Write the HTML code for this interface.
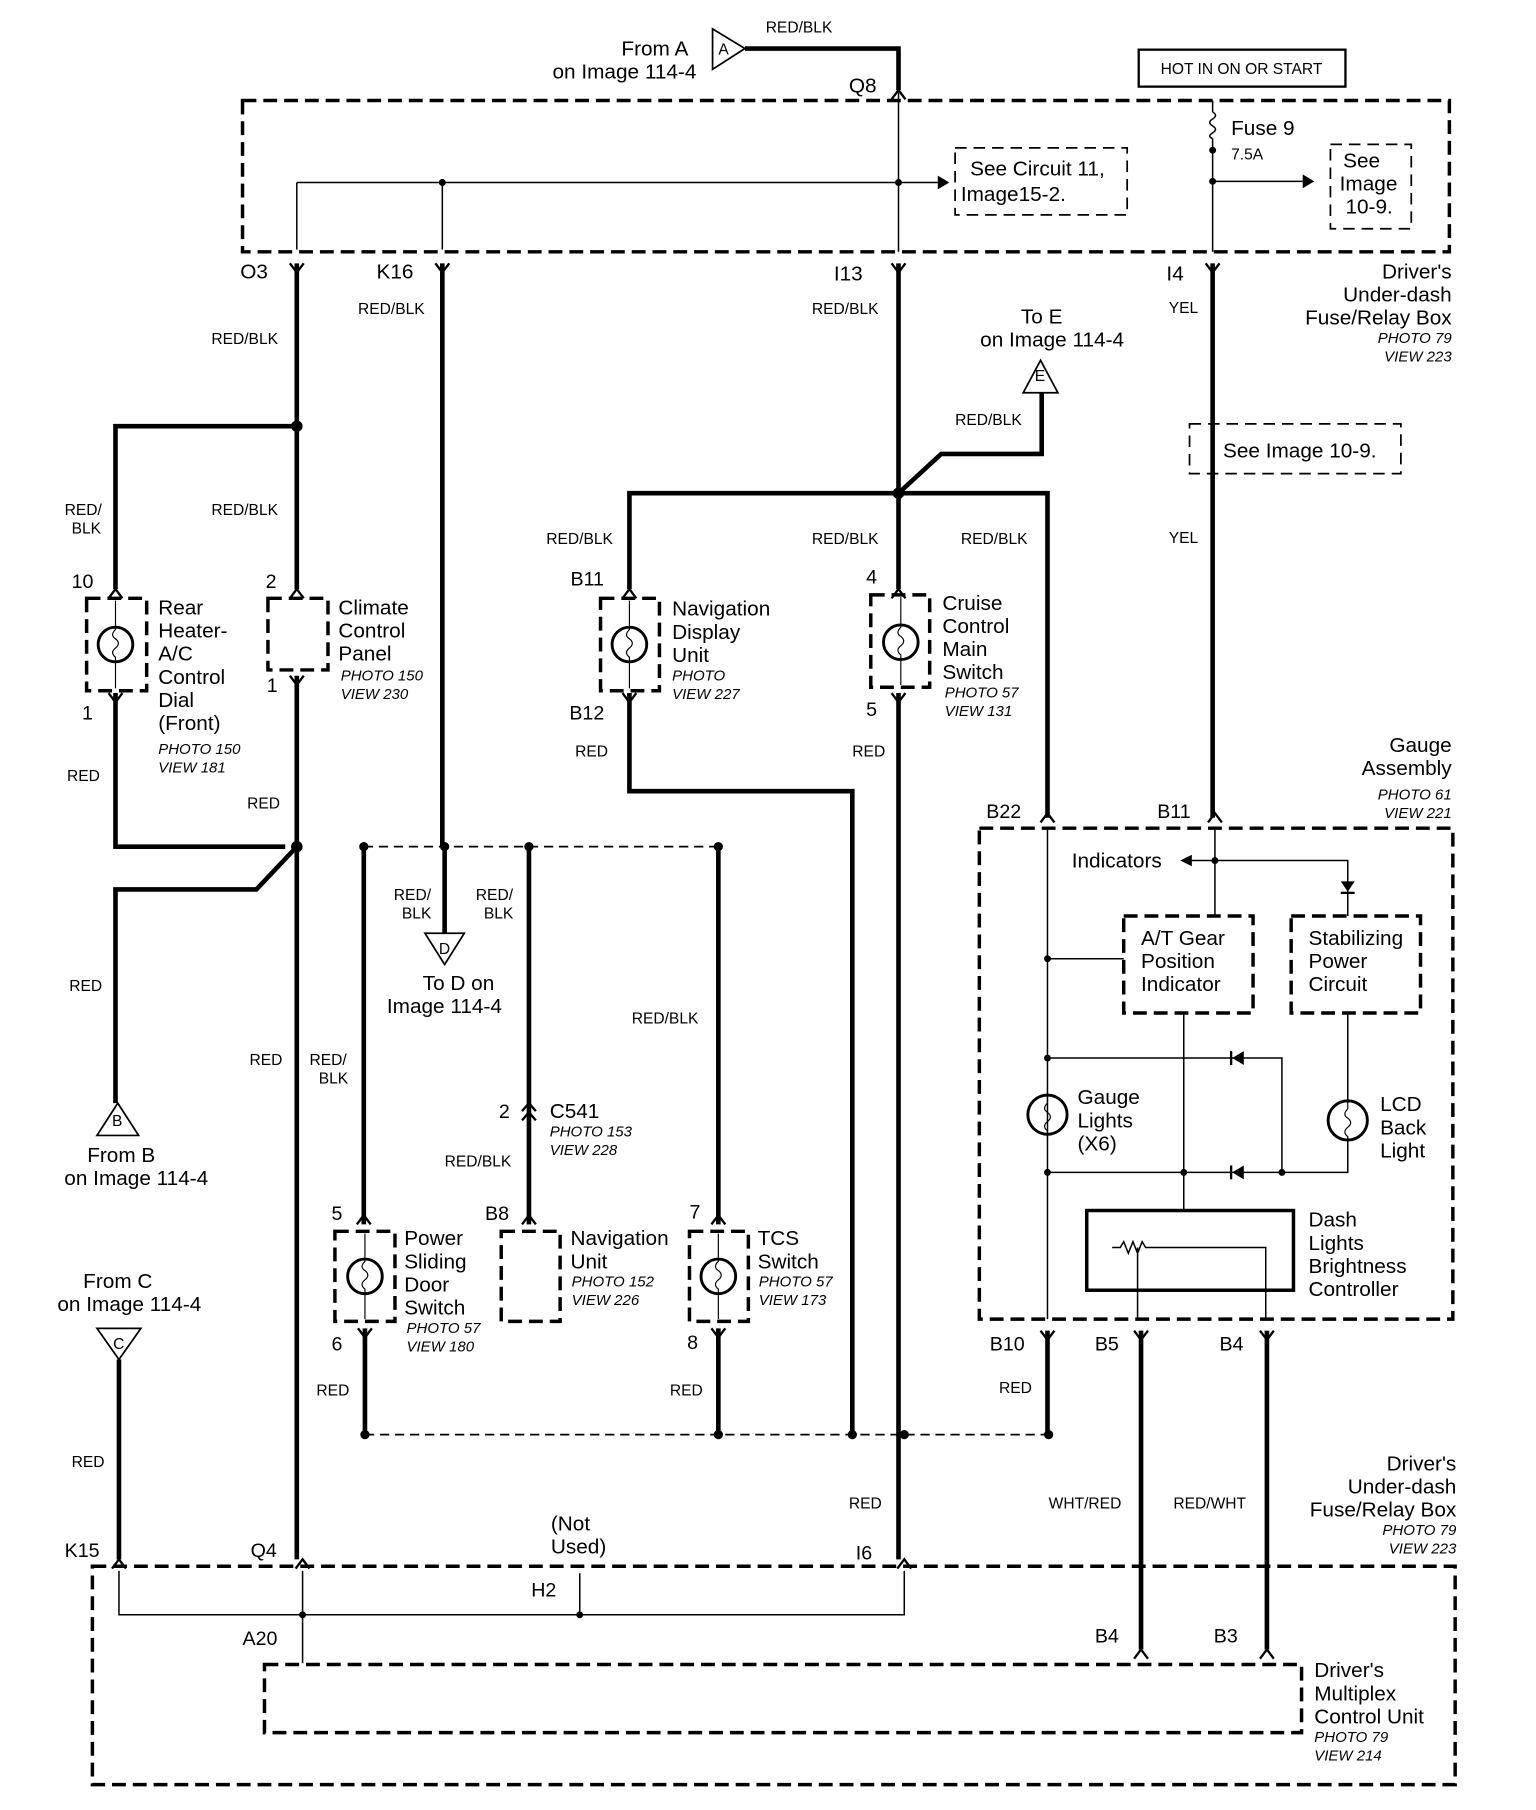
<!DOCTYPE html>
<html><head><meta charset="utf-8"><style>
html,body{margin:0;padding:0;background:#fff}
svg{display:block}
text{font-family:"Liberation Sans",sans-serif;fill:#000}
.l{font-size:18px}
.w{font-size:13.5px}
.i{font-size:13px;font-style:italic}
.n{font-size:17px}
</style></head><body>
<svg width="1536" height="1810" viewBox="0 0 1330 1567" preserveAspectRatio="none" xmlns="http://www.w3.org/2000/svg">
<g fill="none" stroke="#000">
<g stroke-width="3" stroke-dasharray="12,6">
<rect x="210" y="87" width="1045" height="131"/>
<rect x="848" y="717" width="410" height="425"/>
<rect x="80" y="1356" width="1180" height="189"/>
<rect x="229" y="1441" width="898" height="59"/>
<rect x="75" y="518" width="52" height="80"/>
<rect x="232" y="518" width="52" height="62"/>
<rect x="520" y="518" width="51" height="80"/>
<rect x="754" y="515" width="51" height="80"/>
<rect x="290" y="1066" width="52" height="78"/>
<rect x="434" y="1066" width="51" height="78"/>
<rect x="597" y="1066" width="51" height="78"/>
<rect x="973" y="793" width="112" height="84"/>
<rect x="1118" y="793" width="112" height="84"/>
</g>
<g stroke-width="1.5" stroke-dasharray="10,6">
<rect x="827" y="128" width="149" height="58"/>
<rect x="1152" y="125" width="70" height="73"/>
<rect x="1030" y="367" width="183" height="43"/>
</g>
<rect x="986" y="43" width="179" height="32" stroke-width="2"/>
<rect x="941" y="1048" width="179" height="69" stroke-width="3"/>
<g stroke-width="4">
<path d="M645 42H778V78"/>
<path d="M257 228V510M257 369H100V510"/>
<path d="M383 228V733"/>
<path d="M778 228V510M778 427L815 393H902V340"/>
<path d="M545 510V427H907V708"/>
<path d="M1050 228V708"/>
<path d="M100 600V733H247M257 585V1350M257 733L222 770H100V955"/>
<path d="M545 600V685H738V1242"/>
<path d="M778 600V1350"/>
<path d="M315 733V1060M385 733V808M458 733V1060M622 733V1060"/>
<path d="M316 1150V1242M622 1150V1242M907 1152V1242"/>
<path d="M988 1152V1428M1097 1152V1428"/>
<path d="M103 1177V1350"/>
</g>
<g stroke-width="1.5" stroke-dasharray="8,5">
<path d="M315 733H622M316 1242H908"/>
</g>
<g stroke-width="1.3">
<path d="M778 80V218M257 158H812M257 158V216M383 158V216"/>
<path d="M1050 87V97M1050 120V218M1050 157H1128"/>
<path d="M1050 97q5 3 0 6q-5 3 0 6q5 3 0 6q-5 3 0 5"/>
<path d="M907 717V1142M907 830H973M1052 717V793M1052 745H1032M1052 745H1167V793"/>
<path d="M907 916H1110V1015M907 1015H1167V985M1167 877V955M1025 877V1048"/>
<path d="M963 1080H970l3-5 4 10 4-10 4 10 4-10 3 5H1096V1142M985 1080V1142"/>
<path d="M103 1360V1398H783V1360M262 1360V1440M502 1398V1362"/>
</g>
<g fill="#000" stroke="none">
<path d="M812 152L822 158L812 164Z"/><path d="M1128 151L1138 157L1128 163Z"/>
<path d="M1032 740L1022 745L1032 750Z"/>
<path d="M1161 763H1173L1167 772Z"/><rect x="1161" y="772" width="12" height="2"/>
<path d="M1077 910V922L1067 916Z"/><rect x="1065" y="910" width="2" height="12"/>
<path d="M1077 1009V1021L1067 1015Z"/><rect x="1065" y="1009" width="2" height="12"/>
<circle cx="383" cy="158" r="3"/><circle cx="778" cy="158" r="3"/><circle cx="1050" cy="130" r="3"/><circle cx="1050" cy="157" r="3"/>
<circle cx="257" cy="369" r="5"/><circle cx="778" cy="427" r="5"/><circle cx="257" cy="733" r="5"/>
<circle cx="315" cy="733" r="4"/><circle cx="385" cy="733" r="4"/><circle cx="458" cy="733" r="4"/><circle cx="622" cy="733" r="4"/>
<circle cx="316" cy="1242" r="4"/><circle cx="622" cy="1242" r="4"/><circle cx="738" cy="1242" r="4"/><circle cx="783" cy="1242" r="4"/><circle cx="908" cy="1242" r="4"/>
<circle cx="907" cy="830" r="3"/><circle cx="1052" cy="745" r="3"/><circle cx="907" cy="916" r="3"/><circle cx="907" cy="1015" r="3"/><circle cx="1025" cy="1015" r="3"/><circle cx="1110" cy="1015" r="3"/>
<circle cx="262" cy="1398" r="3"/><circle cx="502" cy="1398" r="3"/>
</g>
<g stroke-width="1.5">
<path d="M617 25V60L645 42Z"/>
<path d="M886 340H916L901 312Z"/>
<path d="M84 983H120L102 955Z"/>
<path d="M368 808H402L385 835Z"/>
<path d="M84 1150H122L103 1177Z"/>
</g>
<g stroke-width="2">
<path d="M772 86L778 78L784 86M251 228L257 236L263 228M377 228L383 236L389 228M772 228L778 236L784 228M1044 228L1050 236L1056 228"/>
<path d="M94 518L100 510L106 518M251 518L257 510L263 518M539 518L545 510L551 518M772 518L778 510L784 518"/>
<path d="M94 600L100 608L106 600M251 585L257 593L263 585M539 600L545 608L551 600M772 600L778 608L784 600"/>
<path d="M309 1060L315 1052L321 1060M452 1060L458 1052L464 1060M616 1060L622 1052L628 1060M452 962L458 955L464 962M452 970L458 963L464 970"/>
<path d="M310 1150L316 1158L322 1150M616 1150L622 1158L628 1150"/>
<path d="M901 712L907 704L913 712M1046 712L1052 704L1058 712M901 1152L907 1160L913 1152M982 1152L988 1160L994 1152M1091 1152L1097 1160L1103 1152"/>
<path d="M97 1358L103 1350L109 1358M256 1358L262 1350L268 1358M777 1358L783 1350L789 1358M982 1436L988 1428L994 1436M1091 1436L1097 1428L1103 1436"/>
</g>
<g stroke-width="2.5">
<circle cx="100" cy="558" r="15"/><circle cx="545" cy="558" r="15"/><circle cx="780" cy="556" r="15"/>
<circle cx="316" cy="1105" r="15"/><circle cx="622" cy="1105" r="15"/><circle cx="907" cy="965" r="17"/><circle cx="1167" cy="970" r="17"/>
</g>
<g stroke-width="1">
<path d="M100 520V545q-5 5 0 8q5 4 0 8q-5 4 0 8V596M545 520V545q-5 5 0 8q5 4 0 8q-5 4 0 8V596M780 517V543q-5 5 0 8q5 4 0 8q-5 4 0 8V593"/>
<path d="M316 1068V1092q-5 5 0 8q5 4 0 8q-5 4 0 8V1142M622 1068V1092q-5 5 0 8q5 4 0 8q-5 4 0 8V1142"/>
<path d="M907 945V955q-5 5 0 8q5 4 0 8q-5 4 0 8V985M1167 950V960q-5 5 0 8q5 4 0 8q-5 4 0 8V990"/>
</g>
</g>
<text class="l" x="596" y="48" text-anchor="end">From A</text>
<text class="l" x="603" y="68" text-anchor="end">on Image 114-4</text>
<text class="w" x="622" y="47">A</text>
<text class="w" x="663" y="28">RED/BLK</text>
<text class="l" x="735" y="80">Q8</text>
<text class="w" x="1075" y="64" text-anchor="middle">HOT IN ON OR START</text>
<text class="l" x="840" y="152">See Circuit 11,</text>
<text class="l" x="832" y="174">Image15-2.</text>
<text class="l" x="1066" y="117">Fuse 9</text>
<text class="w" x="1066" y="138">7.5A</text>
<text class="l" x="1163" y="145">See</text>
<text class="l" x="1160" y="165">Image</text>
<text class="l" x="1165" y="185">10-9.</text>
<text class="l" x="1059" y="396">See Image 10-9.</text>
<text class="l" x="208" y="241">O3</text>
<text class="l" x="326" y="241">K16</text>
<text class="l" x="722" y="243">I13</text>
<text class="l" x="1010" y="243">I4</text>
<g text-anchor="end"><text class="l" x="1257" y="241">Driver's</text><text class="l" x="1257" y="261">Under-dash</text><text class="l" x="1257" y="281">Fuse/Relay Box</text><text class="i" x="1257" y="297">PHOTO 79</text><text class="i" x="1257" y="313">VIEW 223</text></g>
<text class="w" x="310" y="272">RED/BLK</text>
<text class="w" x="703" y="272">RED/BLK</text>
<text class="w" x="183" y="298">RED/BLK</text>
<text class="w" x="1012" y="271">YEL</text>
<text class="l" x="902" y="280" text-anchor="middle">To E</text>
<text class="l" x="911" y="300" text-anchor="middle">on Image 114-4</text>
<text class="w" x="896" y="330">E</text>
<text class="w" x="827" y="368">RED/BLK</text>
<text class="w" x="56" y="446">RED/</text><text class="w" x="62" y="462">BLK</text>
<text class="w" x="183" y="446">RED/BLK</text>
<text class="w" x="473" y="471">RED/BLK</text>
<text class="w" x="703" y="471">RED/BLK</text>
<text class="w" x="832" y="471">RED/BLK</text>
<text class="w" x="1012" y="470">YEL</text>
<text class="n" x="62" y="509">10</text><text class="n" x="230" y="509">2</text><text class="n" x="494" y="507">B11</text><text class="n" x="750" y="505">4</text>
<text class="n" x="71" y="623">1</text><text class="n" x="231" y="599">1</text><text class="n" x="493" y="623">B12</text><text class="n" x="750" y="620">5</text>
<text class="l" x="137" y="532">Rear</text><text class="l" x="137" y="552">Heater-</text><text class="l" x="137" y="572">A/C</text><text class="l" x="137" y="592">Control</text><text class="l" x="137" y="612">Dial</text><text class="l" x="137" y="632">(Front)</text>
<text class="i" x="137" y="653">PHOTO 150</text><text class="i" x="137" y="669">VIEW 181</text>
<text class="l" x="293" y="532">Climate</text><text class="l" x="293" y="552">Control</text><text class="l" x="293" y="572">Panel</text>
<text class="i" x="295" y="589">PHOTO 150</text><text class="i" x="295" y="605">VIEW 230</text>
<text class="l" x="582" y="533">Navigation</text><text class="l" x="582" y="553">Display</text><text class="l" x="582" y="573">Unit</text>
<text class="i" x="582" y="589">PHOTO</text><text class="i" x="582" y="605">VIEW 227</text>
<text class="l" x="816" y="528">Cruise</text><text class="l" x="816" y="548">Control</text><text class="l" x="816" y="568">Main</text><text class="l" x="816" y="588">Switch</text>
<text class="i" x="818" y="604">PHOTO 57</text><text class="i" x="818" y="620">VIEW 131</text>
<text class="w" x="58" y="676">RED</text><text class="w" x="498" y="655">RED</text><text class="w" x="738" y="655">RED</text><text class="w" x="214" y="700">RED</text>
<g text-anchor="end"><text class="l" x="1257" y="651">Gauge</text><text class="l" x="1257" y="671">Assembly</text><text class="i" x="1257" y="692">PHOTO 61</text><text class="i" x="1257" y="708">VIEW 221</text></g>
<text class="n" x="854" y="708">B22</text><text class="n" x="1002" y="708">B11</text>
<text class="l" x="928" y="751">Indicators</text>
<text class="l" x="988" y="818">A/T Gear</text><text class="l" x="988" y="838">Position</text><text class="l" x="988" y="858">Indicator</text>
<text class="l" x="1133" y="818">Stabilizing</text><text class="l" x="1133" y="838">Power</text><text class="l" x="1133" y="858">Circuit</text>
<text class="l" x="933" y="956">Gauge</text><text class="l" x="933" y="976">Lights</text><text class="l" x="933" y="996">(X6)</text>
<text class="l" x="1195" y="962">LCD</text><text class="l" x="1195" y="982">Back</text><text class="l" x="1195" y="1002">Light</text>
<text class="l" x="1133" y="1062">Dash</text><text class="l" x="1133" y="1082">Lights</text><text class="l" x="1133" y="1102">Brightness</text><text class="l" x="1133" y="1122">Controller</text>
<text class="w" x="341" y="779">RED/</text><text class="w" x="348" y="795">BLK</text>
<text class="w" x="412" y="779">RED/</text><text class="w" x="419" y="795">BLK</text>
<text class="w" x="380" y="826">D</text>
<text class="l" x="366" y="857">To D  on</text><text class="l" x="335" y="877">Image 114-4</text>
<text class="w" x="60" y="858">RED</text>
<text class="w" x="547" y="886">RED/BLK</text>
<text class="w" x="216" y="922">RED</text>
<text class="w" x="268" y="922">RED/</text><text class="w" x="276" y="938">BLK</text>
<text class="n" x="432" y="968">2</text><text class="l" x="476" y="968">C541</text>
<text class="i" x="476" y="984">PHOTO 153</text><text class="i" x="476" y="1000">VIEW 228</text>
<text class="w" x="97" y="975">B</text>
<text class="l" x="105" y="1006" text-anchor="middle">From B</text><text class="l" x="118" y="1026" text-anchor="middle">on Image 114-4</text>
<text class="w" x="385" y="1010">RED/BLK</text>
<text class="n" x="287" y="1056">5</text><text class="n" x="420" y="1056">B8</text><text class="n" x="597" y="1055">7</text>
<text class="l" x="350" y="1078">Power</text><text class="l" x="350" y="1098">Sliding</text><text class="l" x="350" y="1118">Door</text><text class="l" x="350" y="1138">Switch</text>
<text class="i" x="352" y="1154">PHOTO 57</text><text class="i" x="352" y="1170">VIEW 180</text>
<text class="l" x="494" y="1078">Navigation</text><text class="l" x="494" y="1098">Unit</text>
<text class="i" x="495" y="1114">PHOTO 152</text><text class="i" x="495" y="1130">VIEW 226</text>
<text class="l" x="656" y="1078">TCS</text><text class="l" x="656" y="1098">Switch</text>
<text class="i" x="657" y="1114">PHOTO 57</text><text class="i" x="657" y="1130">VIEW 173</text>
<text class="l" x="102" y="1115" text-anchor="middle">From C</text><text class="l" x="112" y="1135" text-anchor="middle">on Image 114-4</text>
<text class="w" x="98" y="1168">C</text>
<text class="n" x="287" y="1169">6</text><text class="n" x="595" y="1168">8</text>
<text class="n" x="857" y="1169">B10</text><text class="n" x="948" y="1169">B5</text><text class="n" x="1056" y="1169">B4</text>
<text class="w" x="274" y="1208">RED</text><text class="w" x="580" y="1208">RED</text><text class="w" x="865" y="1206">RED</text>
<g text-anchor="end"><text class="l" x="1261" y="1273">Driver's</text><text class="l" x="1261" y="1293">Under-dash</text><text class="l" x="1261" y="1313">Fuse/Relay Box</text><text class="i" x="1261" y="1329">PHOTO 79</text><text class="i" x="1261" y="1345">VIEW 223</text></g>
<text class="w" x="62" y="1270">RED</text>
<text class="w" x="735" y="1306">RED</text>
<text class="w" x="908" y="1306">WHT/RED</text><text class="w" x="1016" y="1306">RED/WHT</text>
<text class="l" x="477" y="1325">(Not</text><text class="l" x="477" y="1345">Used)</text>
<text class="n" x="56" y="1348">K15</text><text class="n" x="217" y="1348">Q4</text><text class="n" x="741" y="1350">I6</text>
<text class="n" x="460" y="1382">H2</text>
<text class="n" x="210" y="1424">A20</text>
<text class="n" x="948" y="1422">B4</text><text class="n" x="1051" y="1422">B3</text>
<text class="l" x="1138" y="1452">Driver's</text><text class="l" x="1138" y="1472">Multiplex</text><text class="l" x="1138" y="1492">Control Unit</text>
<text class="i" x="1138" y="1508">PHOTO 79</text><text class="i" x="1138" y="1524">VIEW 214</text>
</svg>
</body></html>
